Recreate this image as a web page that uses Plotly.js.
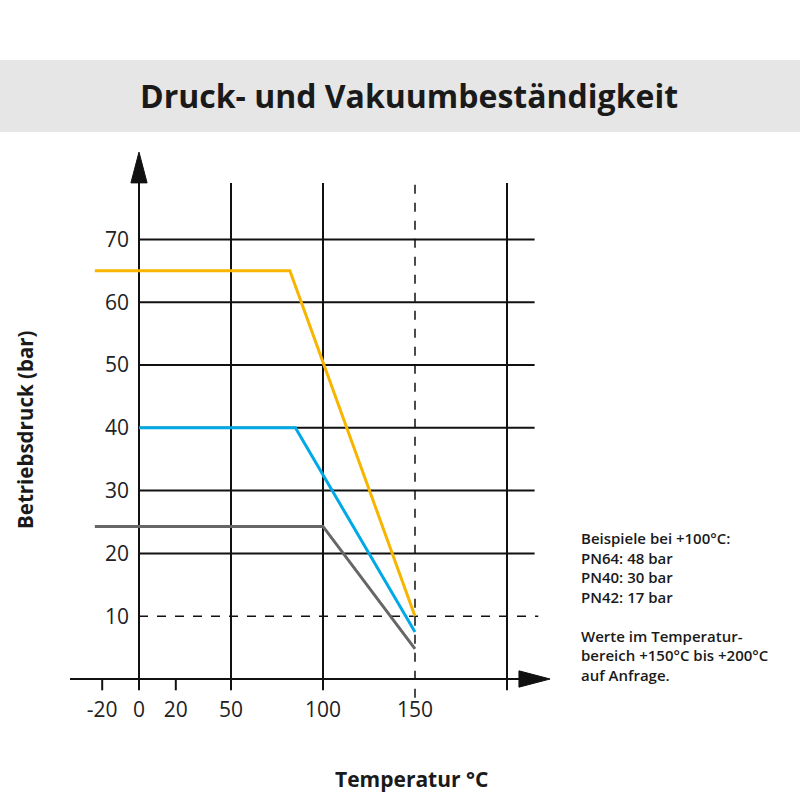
<!DOCTYPE html>
<html><head><meta charset="utf-8">
<script src="https://cdn.plot.ly/plotly-3.0.1.min.js"></script>
<style>html,body{margin:0;padding:0;background:#fff}</style>
</head><body>
<div id="chart" style="width:800px;height:800px"></div>
<script>
// Data
const tempPN64 = [-24, 82, 150];
const pressPN64 = [65, 65, 10];
const tempPN40 = [0, 85, 150];
const pressPN40 = [40, 40, 7.5];
const tempPN42 = [-24, 100, 150];
const pressPN42 = [24.3, 24.3, 4.8];
const xTickVals = [-20, 0, 20, 50, 100, 150];
const xTickText = ['-20', '0', '20', '50', '100', '150'];
const yTickVals = [10, 20, 30, 40, 50, 60, 70];
const yTickText = ['10', '20', '30', '40', '50', '60', '70'];
const hGrid = [20, 30, 40, 50, 60, 70];
const vGrid = [50, 100, 200];
const noteLines = ['Beispiele bei +100°C:', 'PN64: 48 bar', 'PN40: 30 bar', 'PN42: 17 bar', ' ', 'Werte im Temperatur-', 'bereich +150°C bis +200°C', 'auf Anfrage.'];

// pixel mapping helpers for layout extents
const pxX = 1.84, pxY = 6.28, x0px = 139, y0px = 679;
const xRange = [(0 - x0px) / pxX, (800 - x0px) / pxX];
const yRange = [(y0px - 800) / pxY, (y0px - 0) / pxY];

const shapes = [];
const B = 'below';
// title banner
shapes.push({type:'rect', xref:'paper', yref:'paper', x0:0, x1:1, y0:1-132/800, y1:1-60/800, fillcolor:'#e6e6e6', line:{width:0}, layer:B});
// horizontal grid
hGrid.forEach(v => shapes.push({type:'line', x0:0, x1:215, y0:v, y1:v, line:{color:'#111', width:2}, layer:B}));
shapes.push({type:'line', x0:0, x1:217, y0:10, y1:10, line:{color:'#111', width:1.5, dash:'dash'}, layer:B});
// vertical grid
vGrid.forEach(v => shapes.push({type:'line', x0:v, x1:v, y0:-1.8, y1:79, line:{color:'#111', width:2}, layer:B}));
shapes.push({type:'line', x0:150, x1:150, y0:-3, y1:79, line:{color:'#111', width:1.5, dash:'dash'}, layer:B});
// axes lines
shapes.push({type:'line', x0:-37.5, x1:208, y0:0, y1:0, line:{color:'#111', width:2}, layer:B});
shapes.push({type:'line', x0:0, x1:0, y0:-1.8, y1:80, line:{color:'#111', width:2}, layer:B});
// arrow heads
shapes.push({type:'path', path:'M 206.5 1.3 L 223.4 0 L 206.5 -1.3 Z', fillcolor:'#111', line:{color:'#111', width:1}, layer:B});
shapes.push({type:'path', path:'M -4.4 79 L 0 83.9 L 4.4 79 Z', fillcolor:'#111', line:{color:'#111', width:1}, layer:B});
// small ticks at -20, 20
[-20, 20].forEach(v => shapes.push({type:'line', x0:v, x1:v, y0:0, y1:-1.8, line:{color:'#111', width:2}, layer:B}));

const traces = [
  {x: tempPN64, y: pressPN64, mode:'lines', line:{color:'#f7b500', width:3}, name:'PN64'},
  {x: tempPN40, y: pressPN40, mode:'lines', line:{color:'#00a9e6', width:3}, name:'PN40'},
  {x: tempPN42, y: pressPN42, mode:'lines', line:{color:'#666666', width:3}, name:'PN42'}
];

const annotations = [
  {xref:'paper', yref:'paper', x:0.511, y:1-95/800, text:'<b>Druck- und Vakuumbeständigkeit</b>', showarrow:false, font:{family:'Open Sans', size:32, color:'#1a1a1a'}, xanchor:'center', yanchor:'middle'},
  {xref:'paper', yref:'paper', x:25/800, y:1-430/800, text:'<b>Betriebsdruck (bar)</b>', showarrow:false, textangle:-90, font:{family:'Open Sans', size:20.5, color:'#1a1a1a'}, xanchor:'center', yanchor:'middle'},
  {xref:'paper', yref:'paper', x:411/800, y:1-779/800, text:'<b>Temperatur °C</b>', showarrow:false, font:{family:'Open Sans', size:21, color:'#1a1a1a'}, xanchor:'center', yanchor:'middle'},
  {xref:'paper', yref:'paper', x:579/800, y:1-526/800, text:noteLines.join('<br>'), showarrow:false, align:'left', xanchor:'left', yanchor:'top', font:{family:'Open Sans', size:15, color:'#1a1a1a', weight:600}}
];

const layout = {
  width:800, height:800, margin:{l:0, r:0, t:0, b:0}, paper_bgcolor:'#fff', plot_bgcolor:'rgba(0,0,0,0)',
  showlegend:false,
  xaxis:{range:xRange, domain:[0,1], anchor:'free', position:1 - y0px/800, showgrid:false, zeroline:false, showline:false,
         tickmode:'array', tickvals:xTickVals, ticktext:xTickText, ticks:'', ticklabelstandoff:16,
         tickfont:{family:'Open Sans', size:21, color:'#222'}, fixedrange:true},
  yaxis:{range:yRange, domain:[0,1], anchor:'free', position:x0px/800, showgrid:false, zeroline:false, showline:false,
         tickmode:'array', tickvals:yTickVals, ticktext:yTickText, ticks:'', ticklabelstandoff:10,
         tickfont:{family:'Open Sans', size:21, color:'#222'}, fixedrange:true},
  shapes:shapes, annotations:annotations
};
Plotly.newPlot('chart', traces, layout, {displayModeBar:false, staticPlot:true});
</script>
</body></html>
